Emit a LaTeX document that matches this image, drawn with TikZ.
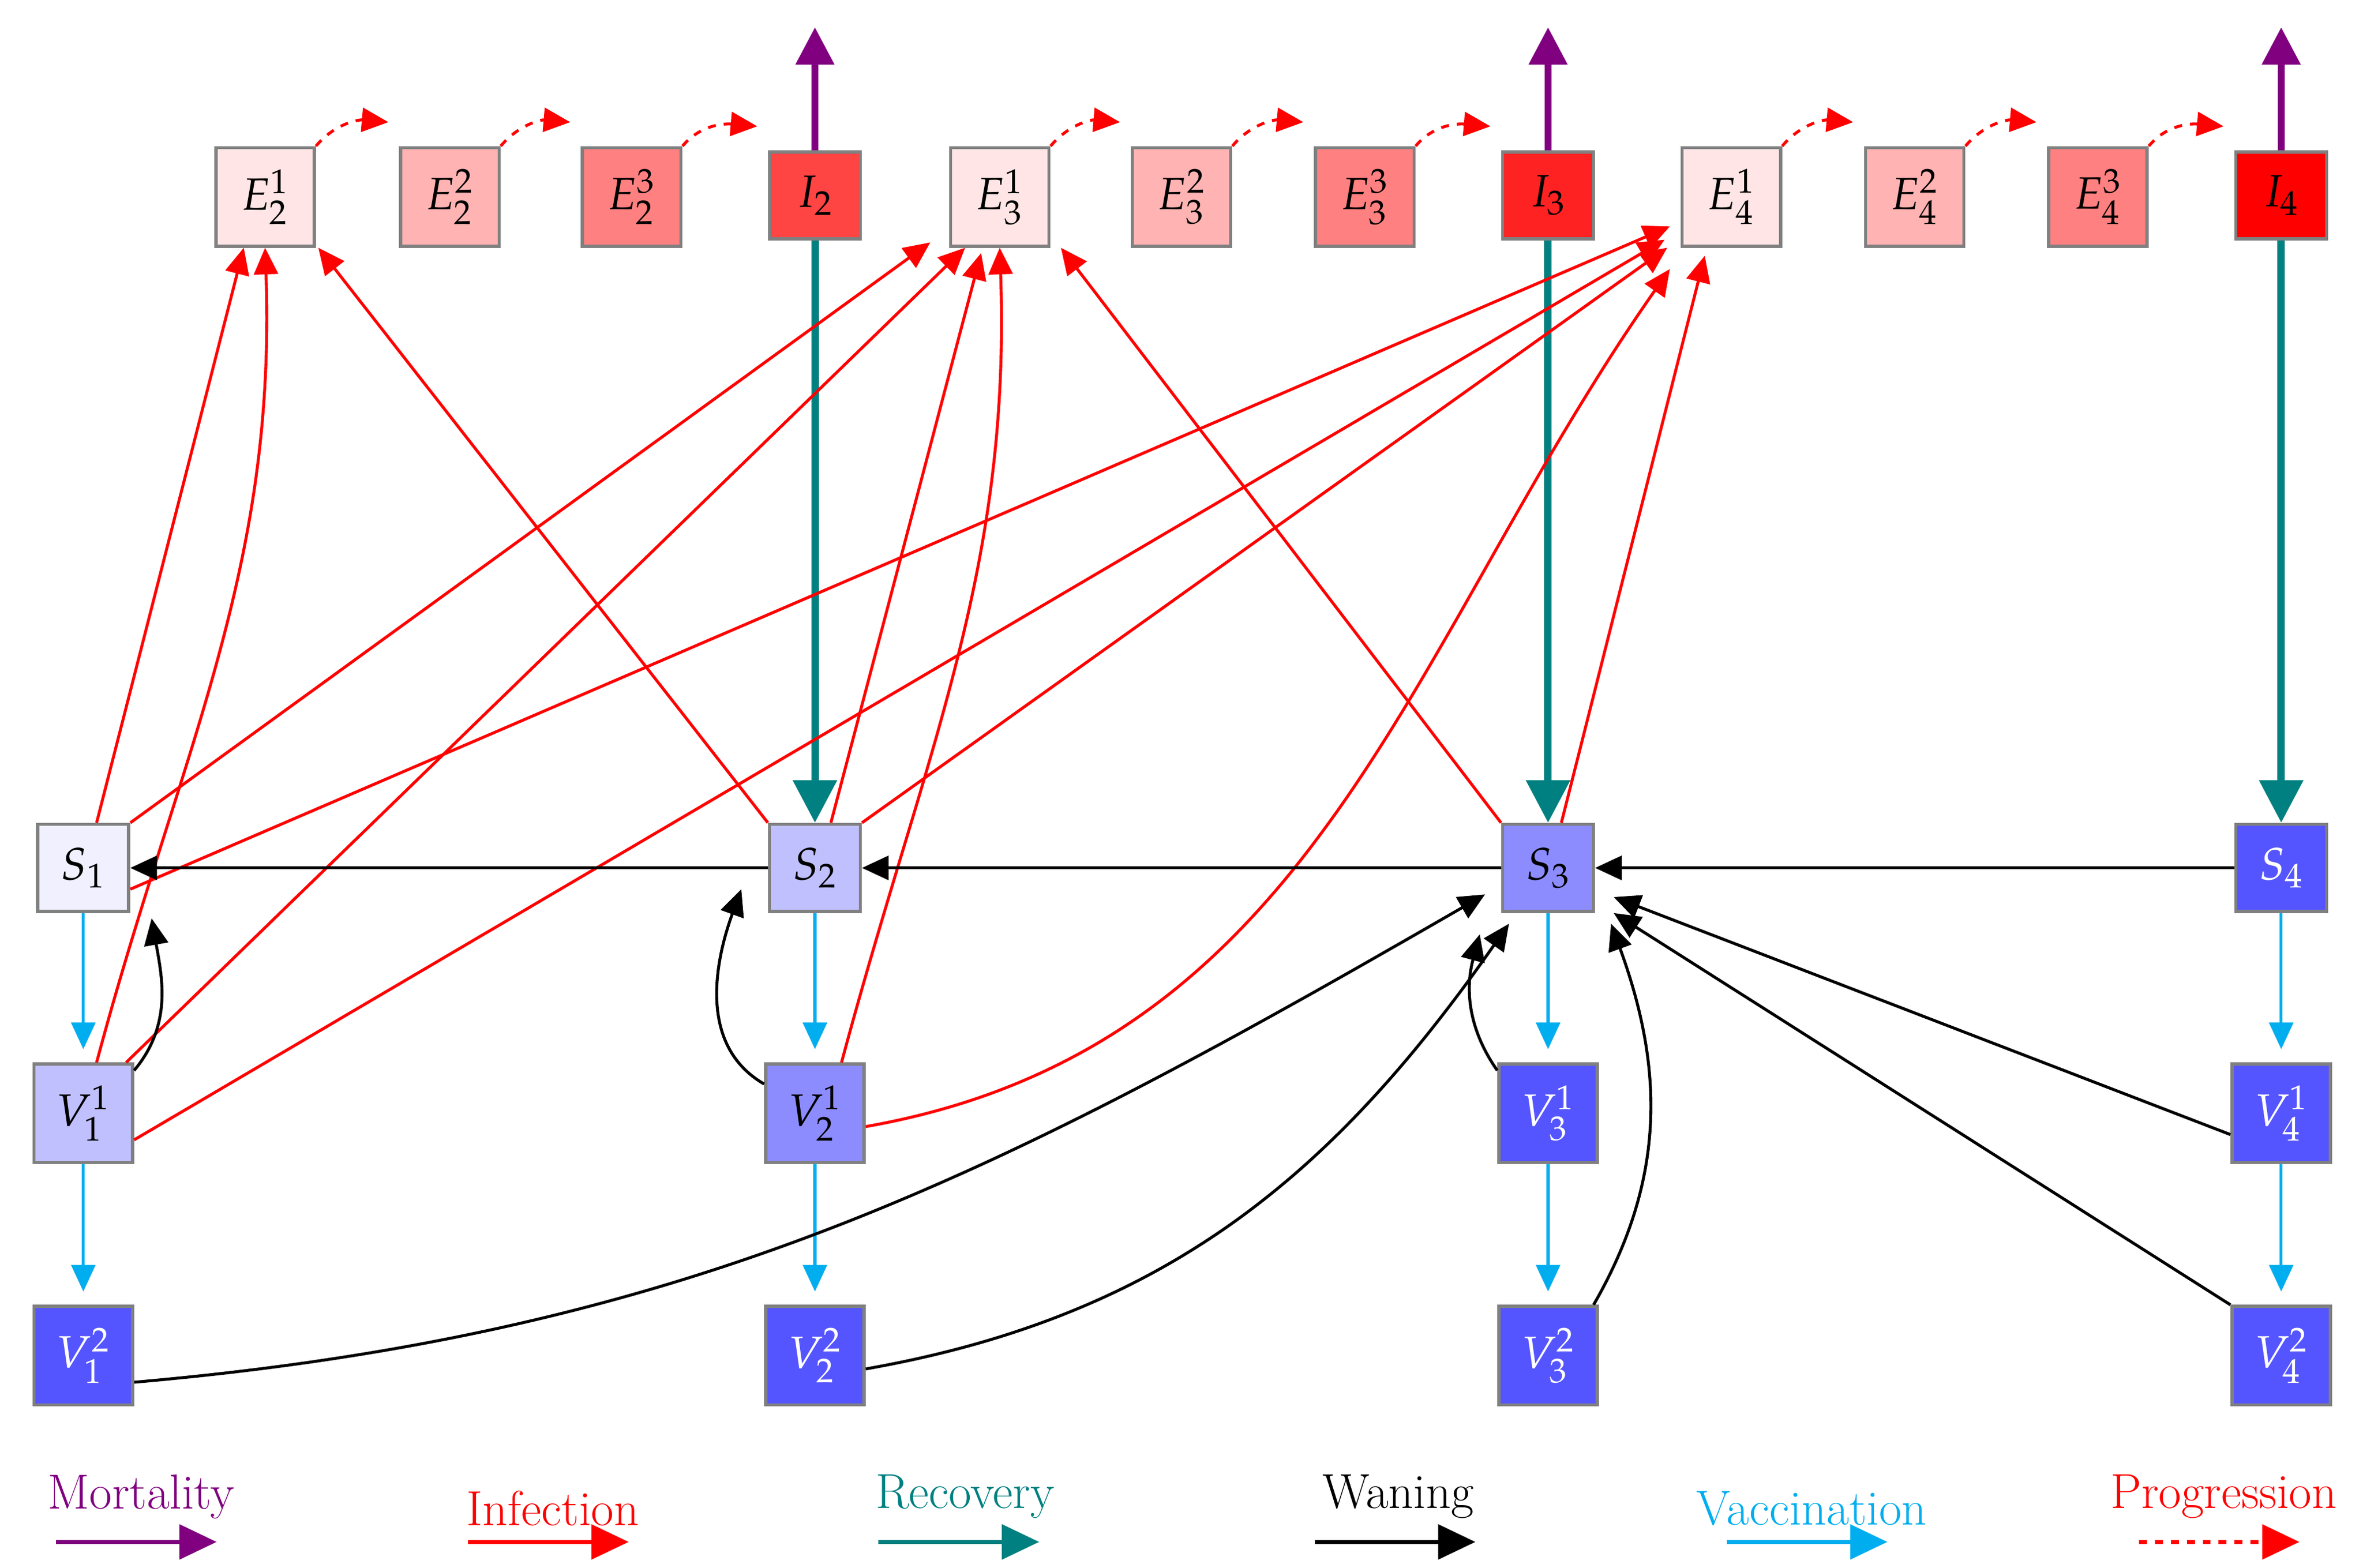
\documentclass[tikz,border=0pt]{standalone}
\usepackage{mathpazo}
\usetikzlibrary{arrows.meta}
\definecolor{tealc}{HTML}{008080}
\definecolor{cyanc}{HTML}{00AEEF}
\definecolor{purp}{HTML}{800080}
\begin{document}
\begin{tikzpicture}[x=0.02cm,y=-0.02cm,
 box/.style={draw=gray,line width=1.2pt,minimum width=1.3cm,minimum height=1.3cm,inner sep=0pt,font=\fontsize{17}{20}\selectfont},
 sbox/.style={box,minimum width=1.2cm,minimum height=1.15cm},
 inf/.style={red,line width=1.1pt,-{Triangle[length=10pt,width=9pt]}},
 wan/.style={black,line width=1.1pt,-{Triangle[length=10pt,width=9pt]}},
 vac/.style={cyanc,line width=1.1pt,-{Triangle[length=10pt,width=9pt]}},
 rec/.style={tealc,line width=2.8pt,-{Triangle[length=16pt,width=16pt]}},
 mort/.style={purp,line width=2.5pt,-{Triangle[length=14pt,width=14pt]}},
 prog/.style={red,dashed,line width=1.1pt,-{Triangle[length=10pt,width=9pt]}},
 lab/.style={font=\fontsize{18.5}{22}\selectfont}]
\useasboundingbox (0,0) rectangle (1560,1035);
% top row
\node[box,fill={rgb,255:red,255;green,229;blue,229}] (E21) at (175,130) {$E_2^1$};
\node[box,fill={rgb,255:red,255;green,179;blue,179}] (E22) at (297,130) {$E_2^2$};
\node[box,fill={rgb,255:red,255;green,128;blue,128}] (E23) at (417,130) {$E_2^3$};
\node[sbox,fill={rgb,255:red,255;green,68;blue,68}] (I2) at (538,129) {$I_2$};
\node[box,fill={rgb,255:red,255;green,229;blue,229}] (E31) at (660,130) {$E_3^1$};
\node[box,fill={rgb,255:red,255;green,179;blue,179}] (E32) at (780,130) {$E_3^2$};
\node[box,fill={rgb,255:red,255;green,128;blue,128}] (E33) at (901,130) {$E_3^3$};
\node[sbox,fill={rgb,255:red,255;green,34;blue,34}] (I3) at (1022,129) {$I_3$};
\node[box,fill={rgb,255:red,255;green,229;blue,229}] (E41) at (1143,130) {$E_4^1$};
\node[box,fill={rgb,255:red,255;green,179;blue,179}] (E42) at (1264,130) {$E_4^2$};
\node[box,fill={rgb,255:red,255;green,128;blue,128}] (E43) at (1385,130) {$E_4^3$};
\node[sbox,fill={rgb,255:red,255;green,0;blue,0}] (I4) at (1506,129) {$I_4$};
% S row
\node[sbox,fill={rgb,255:red,240;green,240;blue,255}] (S1) at (55,573) {$S_1$};
\node[sbox,fill={rgb,255:red,192;green,192;blue,255}] (S2) at (538,573) {$S_2$};
\node[sbox,fill={rgb,255:red,140;green,140;blue,255}] (S3) at (1022,573) {$S_3$};
\node[sbox,fill={rgb,255:red,85;green,85;blue,255},text=white] (S4) at (1506,573) {$S_4$};
% V1 row
\node[box,fill={rgb,255:red,192;green,192;blue,255}] (V11) at (55,735) {$V_1^1$};
\node[box,fill={rgb,255:red,140;green,140;blue,255}] (V21) at (538,735) {$V_2^1$};
\node[box,fill={rgb,255:red,85;green,85;blue,255},text=white] (V31) at (1022,735) {$V_3^1$};
\node[box,fill={rgb,255:red,85;green,85;blue,255},text=white] (V41) at (1506,735) {$V_4^1$};
% V2 row
\node[box,fill={rgb,255:red,85;green,85;blue,255},text=white] (V12) at (55,895) {$V_1^2$};
\node[box,fill={rgb,255:red,85;green,85;blue,255},text=white] (V22) at (538,895) {$V_2^2$};
\node[box,fill={rgb,255:red,85;green,85;blue,255},text=white] (V32) at (1022,895) {$V_3^2$};
\node[box,fill={rgb,255:red,85;green,85;blue,255},text=white] (V42) at (1506,895) {$V_4^2$};
% mortality
\coordinate (M2) at (538,18); \coordinate (M3) at (1022,18); \coordinate (M4) at (1506,18);
\draw[mort] (I2.north) -- (M2);
\draw[mort] (I3.north) -- (M3);
\draw[mort] (I4.north) -- (M4);
% recovery
\draw[rec] (I2.south) -- (S2.north);
\draw[rec] (I3.south) -- (S3.north);
\draw[rec] (I4.south) -- (S4.north);
% progression
\foreach \a/\b in {E21/E22,E22/E23,E23/I2,E31/E32,E32/E33,E33/I3,E41/E42,E42/E43,E43/I4}
  \draw[prog] (\a.north east) to[out=50,in=175] ([xshift=-4pt,yshift=9pt]\b.north west);
% vaccination
\foreach \i in {1,2,3,4}{
 \draw[vac] (S\i.south) -- ([yshift=5pt]V\i1.north);
 \draw[vac] (V\i1.south) -- ([yshift=5pt]V\i2.north);}
% infection
\draw[inf] ([xshift=5pt]S1.north) -- ([xshift=-8pt]E21.south);
\draw[inf] ([xshift=5pt]V11.north) to[out=75,in=-88] (E21.south);
\draw[inf] (S2.north west) -- ([xshift=20pt]E21.south);
\draw[inf] (S1.north east) -- ([xshift=-7pt,yshift=2pt]E31.south west);
\draw[inf] ([xshift=-3pt]V11.north east) -- ([xshift=-13pt]E31.south);
\draw[inf] ([xshift=6pt]S2.north) -- ([xshift=-7pt,yshift=-2pt]E31.south);
\draw[inf] ([xshift=10pt]V21.north) to[out=75,in=-88] (E31.south);
\draw[inf] (S3.north west) -- ([xshift=23pt]E31.south);
\draw[inf] ([yshift=-8pt]S1.east) -- ([xshift=-4pt,yshift=8pt]E41.south west);
\draw[inf] ([yshift=-10pt]V11.east) -- ([xshift=-6pt,yshift=3pt]E41.south west);
\draw[inf] (S2.north east) -- ([xshift=-5pt,yshift=0pt]E41.south west);
\draw[inf] ([yshift=-5pt]V21.east) to[out=10,in=-125] ([xshift=-4pt,yshift=-8pt]E41.south west);
\draw[inf] ([xshift=5pt]S3.north) -- ([xshift=-10pt,yshift=-3pt]E41.south);
% waning
\draw[wan] (S2.west) -- (S1.east);
\draw[wan] (S3.west) -- (S2.east);
\draw[wan] (S4.west) -- (S3.east);
\draw[wan] ([yshift=-3pt]V11.north east) to[out=50,in=-80] ([xshift=8pt,yshift=-2pt]S1.south east);
\draw[wan] ([yshift=11pt]V21.west) to[out=150,in=-110] ([xshift=-10pt,yshift=-8pt]S2.west);
\draw[wan] ([yshift=-10pt]V12.east) to[out=5,in=-150] ([xshift=-6pt,yshift=7pt]S3.south west);
\draw[wan] ([yshift=-5pt]V22.east) to[out=10,in=-125] ([xshift=3pt,yshift=-4pt]S3.south west);
\draw[wan] ([xshift=0pt,yshift=-3pt]V31.north west) to[out=125,in=-105] ([xshift=-8pt,yshift=-8pt]S3.south west);
\draw[wan] ([xshift=-2pt]V32.north east) to[out=60,in=-70] ([xshift=6pt,yshift=-4pt]S3.south east);
\draw[wan] ([yshift=-8pt]V41.west) -- ([xshift=7pt,yshift=6pt]S3.south east);
\draw[wan] (V42.north west) -- ([xshift=7pt,yshift=0pt]S3.south east);
% legend
\node[lab,text=purp] (L1) at (93,988) {Mortality};
\node[lab,text=red] (L2) at (365,996) {Infection};
\node[lab,text=tealc] (L3) at (637,988) {Recovery};
\node[lab] (L4) at (923,988) {Waning};
\node[lab,text=cyanc] (L5) at (1196,996) {Vaccination};
\node[lab,text=red] (L6) at (1468,988) {Progression};
\coordinate (a1) at (37,1018); \coordinate (b1) at (143,1018);
\coordinate (a2) at (309,1018); \coordinate (b2) at (415,1018);
\coordinate (a3) at (580,1018); \coordinate (b3) at (686,1018);
\coordinate (a4) at (868,1018); \coordinate (b4) at (974,1018);
\coordinate (a5) at (1140,1018); \coordinate (b5) at (1246,1018);
\coordinate (a6) at (1412,1018); \coordinate (b6) at (1518,1018);
\draw[purp,line width=1.4pt,-{Triangle[length=14pt,width=13pt]}] (a1) -- (b1);
\draw[red,line width=1.4pt,-{Triangle[length=14pt,width=13pt]}] (a2) -- (b2);
\draw[tealc,line width=1.4pt,-{Triangle[length=14pt,width=13pt]}] (a3) -- (b3);
\draw[black,line width=1.4pt,-{Triangle[length=14pt,width=13pt]}] (a4) -- (b4);
\draw[cyanc,line width=1.4pt,-{Triangle[length=14pt,width=13pt]}] (a5) -- (b5);
\draw[red,dashed,line width=1.4pt,-{Triangle[length=14pt,width=13pt]}] (a6) -- (b6);
\end{tikzpicture}
\end{document}
